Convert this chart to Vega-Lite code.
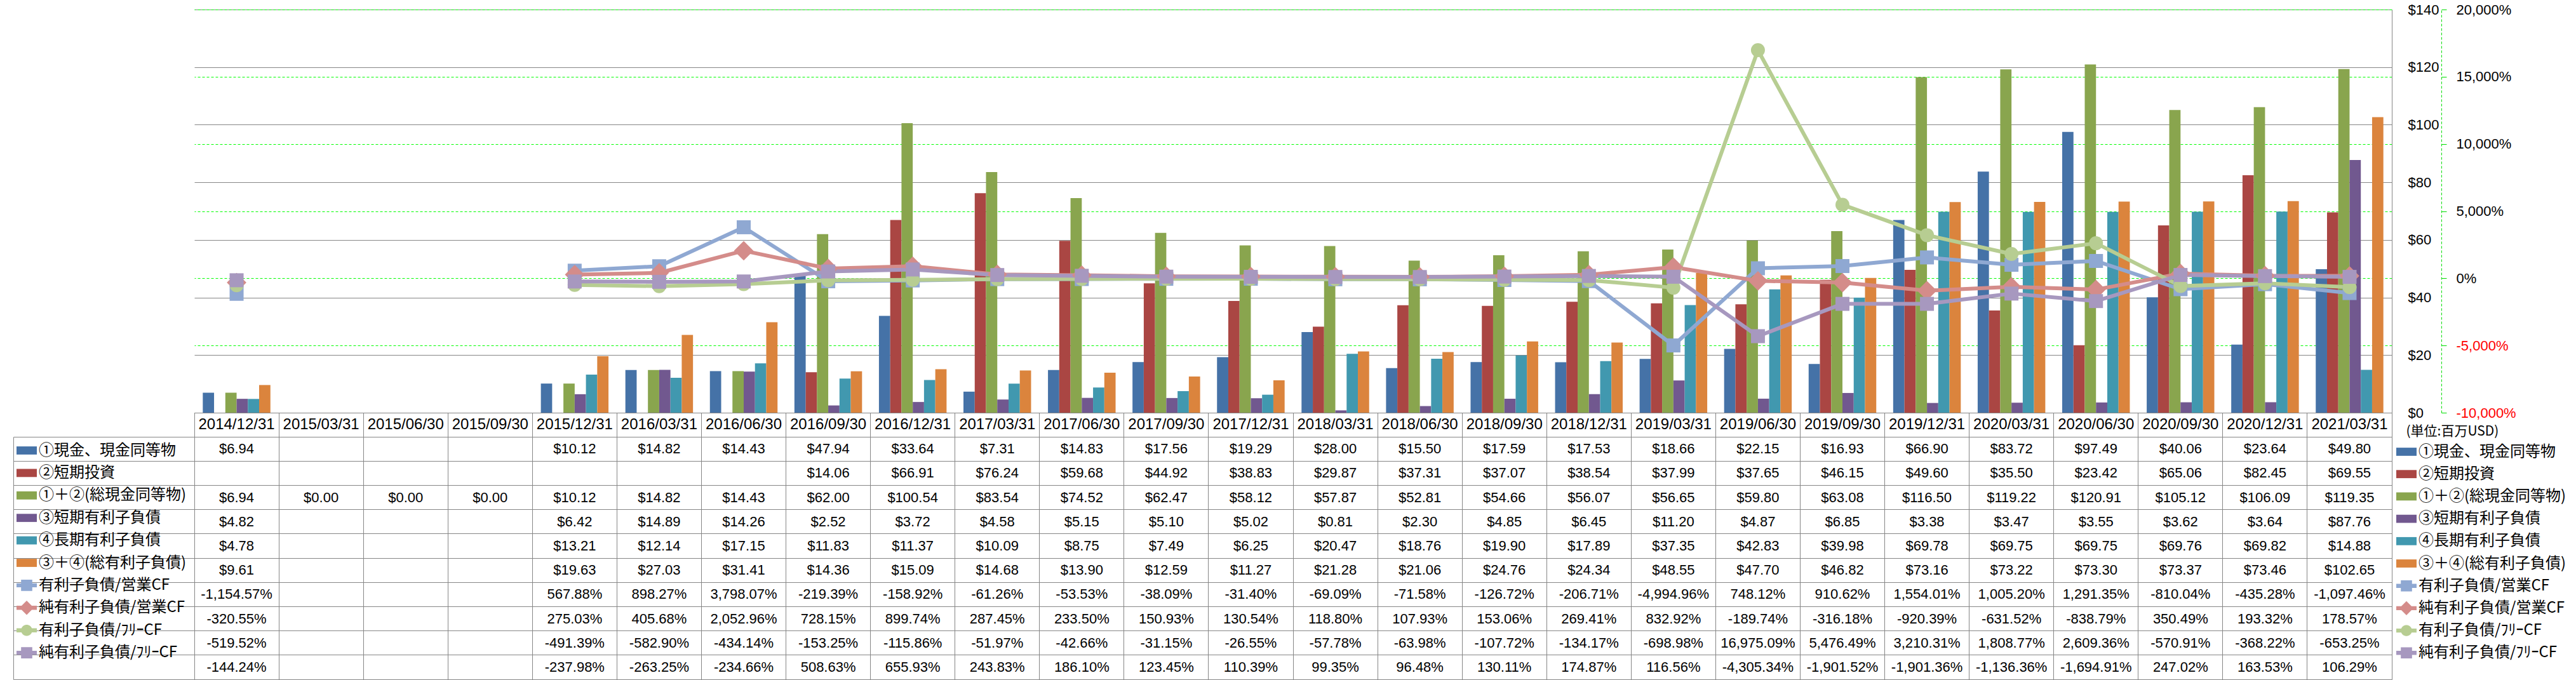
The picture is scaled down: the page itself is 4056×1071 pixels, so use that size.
{
  "$schema": "https://vega.github.io/schema/vega-lite/v6.json",
  "padding": {"left": 20, "top": 4, "right": 0, "bottom": 0},
  "autosize": {"type": "pad"},
  "background": "white",
  "datasets": {
    "w": [
      {"d": "2014/12/31", "①現金、現金同等物": 6.94, "①＋②(総現金同等物)": 6.94, "③短期有利子負債": 4.82, "④長期有利子負債": 4.78, "③＋④(総有利子負債)": 9.61, "有利子負債/営業CF": -11.5457, "純有利子負債/営業CF": -3.2055, "有利子負債/ﾌﾘｰCF": -5.1952, "純有利子負債/ﾌﾘｰCF": -1.4424},
      {"d": "2015/03/31", "①＋②(総現金同等物)": 0},
      {"d": "2015/06/30", "①＋②(総現金同等物)": 0},
      {"d": "2015/09/30", "①＋②(総現金同等物)": 0},
      {"d": "2015/12/31", "①現金、現金同等物": 10.12, "①＋②(総現金同等物)": 10.12, "③短期有利子負債": 6.42, "④長期有利子負債": 13.21, "③＋④(総有利子負債)": 19.63, "有利子負債/営業CF": 5.6788, "純有利子負債/営業CF": 2.7503, "有利子負債/ﾌﾘｰCF": -4.9139, "純有利子負債/ﾌﾘｰCF": -2.3798},
      {"d": "2016/03/31", "①現金、現金同等物": 14.82, "①＋②(総現金同等物)": 14.82, "③短期有利子負債": 14.89, "④長期有利子負債": 12.14, "③＋④(総有利子負債)": 27.03, "有利子負債/営業CF": 8.9827, "純有利子負債/営業CF": 4.0568, "有利子負債/ﾌﾘｰCF": -5.829, "純有利子負債/ﾌﾘｰCF": -2.6325},
      {"d": "2016/06/30", "①現金、現金同等物": 14.43, "①＋②(総現金同等物)": 14.43, "③短期有利子負債": 14.26, "④長期有利子負債": 17.15, "③＋④(総有利子負債)": 31.41, "有利子負債/営業CF": 37.9807, "純有利子負債/営業CF": 20.5296, "有利子負債/ﾌﾘｰCF": -4.3414, "純有利子負債/ﾌﾘｰCF": -2.3466},
      {"d": "2016/09/30", "①現金、現金同等物": 47.94, "②短期投資": 14.06, "①＋②(総現金同等物)": 62.00, "③短期有利子負債": 2.52, "④長期有利子負債": 11.83, "③＋④(総有利子負債)": 14.36, "有利子負債/営業CF": -2.1939, "純有利子負債/営業CF": 7.2815, "有利子負債/ﾌﾘｰCF": -1.5325, "純有利子負債/ﾌﾘｰCF": 5.0863},
      {"d": "2016/12/31", "①現金、現金同等物": 33.64, "②短期投資": 66.91, "①＋②(総現金同等物)": 100.54, "③短期有利子負債": 3.72, "④長期有利子負債": 11.37, "③＋④(総有利子負債)": 15.09, "有利子負債/営業CF": -1.5892, "純有利子負債/営業CF": 8.9974, "有利子負債/ﾌﾘｰCF": -1.1586, "純有利子負債/ﾌﾘｰCF": 6.5593},
      {"d": "2017/03/31", "①現金、現金同等物": 7.31, "②短期投資": 76.24, "①＋②(総現金同等物)": 83.54, "③短期有利子負債": 4.58, "④長期有利子負債": 10.09, "③＋④(総有利子負債)": 14.68, "有利子負債/営業CF": -0.6126, "純有利子負債/営業CF": 2.8745, "有利子負債/ﾌﾘｰCF": -0.5197, "純有利子負債/ﾌﾘｰCF": 2.4383},
      {"d": "2017/06/30", "①現金、現金同等物": 14.83, "②短期投資": 59.68, "①＋②(総現金同等物)": 74.52, "③短期有利子負債": 5.15, "④長期有利子負債": 8.75, "③＋④(総有利子負債)": 13.90, "有利子負債/営業CF": -0.5353, "純有利子負債/営業CF": 2.335, "有利子負債/ﾌﾘｰCF": -0.4266, "純有利子負債/ﾌﾘｰCF": 1.861},
      {"d": "2017/09/30", "①現金、現金同等物": 17.56, "②短期投資": 44.92, "①＋②(総現金同等物)": 62.47, "③短期有利子負債": 5.10, "④長期有利子負債": 7.49, "③＋④(総有利子負債)": 12.59, "有利子負債/営業CF": -0.3809, "純有利子負債/営業CF": 1.5093, "有利子負債/ﾌﾘｰCF": -0.3115, "純有利子負債/ﾌﾘｰCF": 1.2345},
      {"d": "2017/12/31", "①現金、現金同等物": 19.29, "②短期投資": 38.83, "①＋②(総現金同等物)": 58.12, "③短期有利子負債": 5.02, "④長期有利子負債": 6.25, "③＋④(総有利子負債)": 11.27, "有利子負債/営業CF": -0.314, "純有利子負債/営業CF": 1.3054, "有利子負債/ﾌﾘｰCF": -0.2655, "純有利子負債/ﾌﾘｰCF": 1.1039},
      {"d": "2018/03/31", "①現金、現金同等物": 28.00, "②短期投資": 29.87, "①＋②(総現金同等物)": 57.87, "③短期有利子負債": 0.81, "④長期有利子負債": 20.47, "③＋④(総有利子負債)": 21.28, "有利子負債/営業CF": -0.6909, "純有利子負債/営業CF": 1.188, "有利子負債/ﾌﾘｰCF": -0.5778, "純有利子負債/ﾌﾘｰCF": 0.9935},
      {"d": "2018/06/30", "①現金、現金同等物": 15.50, "②短期投資": 37.31, "①＋②(総現金同等物)": 52.81, "③短期有利子負債": 2.30, "④長期有利子負債": 18.76, "③＋④(総有利子負債)": 21.06, "有利子負債/営業CF": -0.7158, "純有利子負債/営業CF": 1.0793, "有利子負債/ﾌﾘｰCF": -0.6398, "純有利子負債/ﾌﾘｰCF": 0.9648},
      {"d": "2018/09/30", "①現金、現金同等物": 17.59, "②短期投資": 37.07, "①＋②(総現金同等物)": 54.66, "③短期有利子負債": 4.85, "④長期有利子負債": 19.90, "③＋④(総有利子負債)": 24.76, "有利子負債/営業CF": -1.2672, "純有利子負債/営業CF": 1.5306, "有利子負債/ﾌﾘｰCF": -1.0772, "純有利子負債/ﾌﾘｰCF": 1.3011},
      {"d": "2018/12/31", "①現金、現金同等物": 17.53, "②短期投資": 38.54, "①＋②(総現金同等物)": 56.07, "③短期有利子負債": 6.45, "④長期有利子負債": 17.89, "③＋④(総有利子負債)": 24.34, "有利子負債/営業CF": -2.0671, "純有利子負債/営業CF": 2.6941, "有利子負債/ﾌﾘｰCF": -1.3417, "純有利子負債/ﾌﾘｰCF": 1.7487},
      {"d": "2019/03/31", "①現金、現金同等物": 18.66, "②短期投資": 37.99, "①＋②(総現金同等物)": 56.65, "③短期有利子負債": 11.20, "④長期有利子負債": 37.35, "③＋④(総有利子負債)": 48.55, "有利子負債/営業CF": -49.9496, "純有利子負債/営業CF": 8.3292, "有利子負債/ﾌﾘｰCF": -6.9898, "純有利子負債/ﾌﾘｰCF": 1.1656},
      {"d": "2019/06/30", "①現金、現金同等物": 22.15, "②短期投資": 37.65, "①＋②(総現金同等物)": 59.80, "③短期有利子負債": 4.87, "④長期有利子負債": 42.83, "③＋④(総有利子負債)": 47.70, "有利子負債/営業CF": 7.4812, "純有利子負債/営業CF": -1.8974, "有利子負債/ﾌﾘｰCF": 169.7509, "純有利子負債/ﾌﾘｰCF": -43.0534},
      {"d": "2019/09/30", "①現金、現金同等物": 16.93, "②短期投資": 46.15, "①＋②(総現金同等物)": 63.08, "③短期有利子負債": 6.85, "④長期有利子負債": 39.98, "③＋④(総有利子負債)": 46.82, "有利子負債/営業CF": 9.1062, "純有利子負債/営業CF": -3.1618, "有利子負債/ﾌﾘｰCF": 54.7649, "純有利子負債/ﾌﾘｰCF": -19.0152},
      {"d": "2019/12/31", "①現金、現金同等物": 66.90, "②短期投資": 49.60, "①＋②(総現金同等物)": 116.50, "③短期有利子負債": 3.38, "④長期有利子負債": 69.78, "③＋④(総有利子負債)": 73.16, "有利子負債/営業CF": 15.5401, "純有利子負債/営業CF": -9.2039, "有利子負債/ﾌﾘｰCF": 32.1031, "純有利子負債/ﾌﾘｰCF": -19.0136},
      {"d": "2020/03/31", "①現金、現金同等物": 83.72, "②短期投資": 35.50, "①＋②(総現金同等物)": 119.22, "③短期有利子負債": 3.47, "④長期有利子負債": 69.75, "③＋④(総有利子負債)": 73.22, "有利子負債/営業CF": 10.052, "純有利子負債/営業CF": -6.3152, "有利子負債/ﾌﾘｰCF": 18.0877, "純有利子負債/ﾌﾘｰCF": -11.3636},
      {"d": "2020/06/30", "①現金、現金同等物": 97.49, "②短期投資": 23.42, "①＋②(総現金同等物)": 120.91, "③短期有利子負債": 3.55, "④長期有利子負債": 69.75, "③＋④(総有利子負債)": 73.30, "有利子負債/営業CF": 12.9135, "純有利子負債/営業CF": -8.3879, "有利子負債/ﾌﾘｰCF": 26.0936, "純有利子負債/ﾌﾘｰCF": -16.9491},
      {"d": "2020/09/30", "①現金、現金同等物": 40.06, "②短期投資": 65.06, "①＋②(総現金同等物)": 105.12, "③短期有利子負債": 3.62, "④長期有利子負債": 69.76, "③＋④(総有利子負債)": 73.37, "有利子負債/営業CF": -8.1004, "純有利子負債/営業CF": 3.5049, "有利子負債/ﾌﾘｰCF": -5.7091, "純有利子負債/ﾌﾘｰCF": 2.4702},
      {"d": "2020/12/31", "①現金、現金同等物": 23.64, "②短期投資": 82.45, "①＋②(総現金同等物)": 106.09, "③短期有利子負債": 3.64, "④長期有利子負債": 69.82, "③＋④(総有利子負債)": 73.46, "有利子負債/営業CF": -4.3528, "純有利子負債/営業CF": 1.9332, "有利子負債/ﾌﾘｰCF": -3.6822, "純有利子負債/ﾌﾘｰCF": 1.6353},
      {"d": "2021/03/31", "①現金、現金同等物": 49.80, "②短期投資": 69.55, "①＋②(総現金同等物)": 119.35, "③短期有利子負債": 87.76, "④長期有利子負債": 14.88, "③＋④(総有利子負債)": 102.65, "有利子負債/営業CF": -10.9746, "純有利子負債/営業CF": 1.7857, "有利子負債/ﾌﾘｰCF": -6.5325, "純有利子負債/ﾌﾘｰCF": 1.0629}
    ]
  },
  "data": {"name": "w"},
  "spacing": 0,
  "bounds": "flush",
  "vconcat": [
    {
      "width": 3460,
      "height": 635,
      "view": {"stroke": null},
      "transform": [
        {"fold": ["①現金、現金同等物", "②短期投資", "①＋②(総現金同等物)", "③短期有利子負債", "④長期有利子負債", "③＋④(総有利子負債)", "有利子負債/営業CF", "純有利子負債/営業CF", "有利子負債/ﾌﾘｰCF", "純有利子負債/ﾌﾘｰCF"], "as": ["s", "v"]},
        {"filter": "isValid(datum.v)"}
      ],
      "layer": [
        {
          "transform": [{"filter": {"field": "s", "oneOf": ["①現金、現金同等物", "②短期投資", "①＋②(総現金同等物)", "③短期有利子負債", "④長期有利子負債", "③＋④(総有利子負債)"]}}],
          "mark": {"type": "bar"},
          "encoding": {
            "x": {"field": "d", "type": "nominal", "sort": null,
              "scale": {"type": "band", "domain": ["2014/12/31","2015/03/31","2015/06/30","2015/09/30","2015/12/31","2016/03/31","2016/06/30","2016/09/30","2016/12/31","2017/03/31","2017/06/30","2017/09/30","2017/12/31","2018/03/31","2018/06/30","2018/09/30","2018/12/31","2019/03/31","2019/06/30","2019/09/30","2019/12/31","2020/03/31","2020/06/30","2020/09/30","2020/12/31","2021/03/31"], "paddingInner": 0.2, "paddingOuter": 0.1},
              "axis": {"orient": "bottom", "domain": true, "domainColor": "#868686", "labels": false, "ticks": false, "grid": false, "title": null}},
            "xOffset": {"field": "s", "type": "nominal", "scale": {"domain": ["①現金、現金同等物", "②短期投資", "①＋②(総現金同等物)", "③短期有利子負債", "④長期有利子負債", "③＋④(総有利子負債)"], "paddingInner": 0, "paddingOuter": 0}},
            "y": {"field": "v", "type": "quantitative",
              "scale": {"domain": [0, 140], "nice": false, "zero": true},
              "axis": {"orient": "right", "values": [0, 20, 40, 60, 80, 100, 120, 140], "format": "$,.0f", "grid": true, "gridColor": "#868686", "gridWidth": 1, "domain": true, "domainColor": "#868686", "ticks": false, "tickSize": 0, "labelPadding": 25, "labelAlign": "left", "labelFont": "Liberation Sans", "labelFontSize": 22, "labelColor": "#000000",
                "title": "(単位:百万USD)", "titleAngle": 0, "titleX": 22, "titleY": 664, "titleAlign": "left", "titleBaseline": "middle", "titleFont": "Noto Sans CJK JP", "titleFontSize": 21, "titleFontWeight": "normal", "titleColor": "#000000"}},
            "color": {"field": "s", "type": "nominal",
              "scale": {"domain": ["①現金、現金同等物", "②短期投資", "①＋②(総現金同等物)", "③短期有利子負債", "④長期有利子負債", "③＋④(総有利子負債)", "有利子負債/営業CF", "純有利子負債/営業CF", "有利子負債/ﾌﾘｰCF", "純有利子負債/ﾌﾘｰCF"],
                "range": ["#4572A7", "#AA4643", "#89A54E", "#71588F", "#4198AF", "#DB843D", "#8FA8D2", "#D48C8A", "#B7CD92", "#A798BF"]},
              "legend": null}
          }
        },
        {
          "transform": [{"filter": {"field": "s", "oneOf": ["有利子負債/営業CF", "純有利子負債/営業CF", "有利子負債/ﾌﾘｰCF", "純有利子負債/ﾌﾘｰCF"]}}],
          "layer": [
            {
              "transform": [{"filter": "datum.d != '2014/12/31'"}],
              "mark": {"type": "line", "strokeWidth": 6, "strokeJoin": "round", "strokeCap": "round"},
              "encoding": {
                "x": {"field": "d", "type": "nominal", "sort": null},
                "y": {"field": "v", "type": "quantitative",
                  "scale": {"domain": [-100, 200], "nice": false, "zero": false},
                  "axis": {"orient": "right", "offset": 78, "values": [-100, -50, 0, 50, 100, 150, 200], "format": ",.0%", "grid": true, "gridColor": "#00FF00", "gridDash": [4, 3], "gridWidth": 1, "domain": true, "domainColor": "#00DD00", "domainDash": [4, 3], "ticks": true, "tickSize": 8, "tickColor": "#00DD00", "labelPadding": 15, "labelAlign": "left", "labelFont": "Liberation Sans", "labelFontSize": 22,
                    "labelColor": {"condition": {"test": "datum.value < 0", "value": "#FF0000"}, "value": "#000000"}, "title": null}},
                "color": {"field": "s", "type": "nominal", "legend": null}
              }
            },
            {
              "mark": {"type": "point", "filled": true, "size": 484, "opacity": 1},
              "encoding": {
                "x": {"field": "d", "type": "nominal", "sort": null},
                "y": {"field": "v", "type": "quantitative"},
                "color": {"field": "s", "type": "nominal", "legend": null},
                "shape": {"field": "s", "type": "nominal", "legend": null,
                  "scale": {"domain": ["有利子負債/営業CF", "純有利子負債/営業CF", "有利子負債/ﾌﾘｰCF", "純有利子負債/ﾌﾘｰCF"], "range": ["square", "M0,-1.4L1.4,0L0,1.4L-1.4,0Z", "circle", "square"]}}
              }
            }
          ]
        }
      ],
      "resolve": {"scale": {"y": "independent"}, "axis": {"y": "independent"}}
    },
    {
      "width": 3460,
      "height": 420,
      "view": {"stroke": "#868686"},
      "layer": [
        {
          "layer": [
            {
              "mark": {"type": "text", "font": "Liberation Sans", "fontSize": 24, "color": "#000000"},
              "encoding": {
                "x": {"field": "d", "type": "nominal", "sort": null,
                  "scale": {"type": "band", "domain": ["2014/12/31","2015/03/31","2015/06/30","2015/09/30","2015/12/31","2016/03/31","2016/06/30","2016/09/30","2016/12/31","2017/03/31","2017/06/30","2017/09/30","2017/12/31","2018/03/31","2018/06/30","2018/09/30","2018/12/31","2019/03/31","2019/06/30","2019/09/30","2019/12/31","2020/03/31","2020/06/30","2020/09/30","2020/12/31","2021/03/31"], "paddingInner": 0, "paddingOuter": 0},
                  "axis": {"orient": "top", "grid": true, "gridColor": "#868686", "bandPosition": 0, "domain": false, "ticks": false, "labels": false, "title": null}},
                "y": {"datum": "hdr", "type": "nominal",
                  "scale": {"type": "band", "domain": ["hdr", "①現金、現金同等物", "②短期投資", "①＋②(総現金同等物)", "③短期有利子負債", "④長期有利子負債", "③＋④(総有利子負債)", "有利子負債/営業CF", "純有利子負債/営業CF", "有利子負債/ﾌﾘｰCF", "純有利子負債/ﾌﾘｰCF"], "paddingInner": 0, "paddingOuter": 0},
                  "axis": {"orient": "left", "grid": true, "gridColor": "#868686", "bandPosition": 1, "domain": false, "ticks": true, "tickSize": 285, "tickColor": "#868686", "labels": false, "title": null}},
                "text": {"field": "d"}
              }
            },
            {
              "transform": [
                {"fold": ["①現金、現金同等物", "②短期投資", "①＋②(総現金同等物)", "③短期有利子負債", "④長期有利子負債", "③＋④(総有利子負債)"], "as": ["s", "v"]},
                {"filter": "isValid(datum.v)"}
              ],
              "mark": {"type": "text", "font": "Liberation Sans", "fontSize": 22, "color": "#000000"},
              "encoding": {
                "x": {"field": "d", "type": "nominal", "sort": null},
                "y": {"field": "s", "type": "nominal"},
                "text": {"field": "v", "type": "quantitative", "format": "$,.2f"}
              }
            },
            {
              "transform": [
                {"fold": ["有利子負債/営業CF", "純有利子負債/営業CF", "有利子負債/ﾌﾘｰCF", "純有利子負債/ﾌﾘｰCF"], "as": ["s", "v"]},
                {"filter": "isValid(datum.v)"}
              ],
              "mark": {"type": "text", "font": "Liberation Sans", "fontSize": 22, "color": "#000000"},
              "encoding": {
                "x": {"field": "d", "type": "nominal", "sort": null},
                "y": {"field": "s", "type": "nominal"},
                "text": {"field": "v", "type": "quantitative", "format": ",.2%"}
              }
            }
          ]
        },
        {
          "data": {"values": [{"s": "①現金、現金同等物"}]},
          "mark": {"type": "text", "text": ""},
          "encoding": {
            "y": {"field": "s", "type": "nominal",
              "scale": {"type": "band", "domain": ["①現金、現金同等物", "②短期投資", "①＋②(総現金同等物)", "③短期有利子負債", "④長期有利子負債", "③＋④(総有利子負債)", "有利子負債/営業CF", "純有利子負債/営業CF", "有利子負債/ﾌﾘｰCF", "純有利子負債/ﾌﾘｰCF"], "range": [38.18, 420], "paddingInner": 0, "paddingOuter": 0},
              "axis": {"orient": "left", "offset": 285, "domain": true, "domainColor": "#868686", "ticks": false, "labels": false, "grid": false, "title": null}}
          }
        },
        {
          "data": {"values": []},
          "mark": {"type": "bar"},
          "encoding": {
            "color": {"field": "s", "type": "nominal",
              "scale": {"domain": ["①現金、現金同等物", "②短期投資", "①＋②(総現金同等物)", "③短期有利子負債", "④長期有利子負債", "③＋④(総有利子負債)", "有利子負債/営業CF", "純有利子負債/営業CF", "有利子負債/ﾌﾘｰCF", "純有利子負債/ﾌﾘｰCF"],
                "range": ["#4572A7", "#AA4643", "#89A54E", "#71588F", "#4198AF", "#DB843D", "#8FA8D2", "#D48C8A", "#B7CD92", "#A798BF"]},
              "legend": {"orient": "none", "legendX": -280, "legendY": 43.5, "title": null, "padding": 0, "direction": "vertical", "gridAlign": "all",
                "symbolSize": 1024, "symbolStrokeWidth": 0, "symbolOpacity": 1, "symbolType": "square",
                "labelFont": "Noto Sans CJK JP", "labelFontSize": 24, "labelColor": "#000000", "labelLimit": 400, "labelOffset": 3, "rowPadding": 7.4,
                "encode": {"symbols": {"update": {"shape": {"signal": "datum.index < 6 ? 'M-1,-0.4H1V0.4H-1Z' : datum.index == 7 ? 'M-1,-0.2H-0.5L0,-0.7L0.5,-0.2H1V0.2H0.5L0,0.7L-0.5,0.2H-1Z' : datum.index == 8 ? 'M-1,-0.2H-0.51A0.55,0.55 0 0 1 0.51,-0.2H1V0.2H0.51A0.55,0.55 0 0 1 -0.51,0.2H-1Z' : 'M-1,-0.2H-0.55V-0.55H0.55V-0.2H1V0.2H0.55V0.55H-0.55V0.2H-1Z'"}}}}}}
          }
        },
        {
          "data": {"values": []},
          "mark": {"type": "bar"},
          "encoding": {
            "color": {"field": "s", "type": "nominal",
              "scale": {"domain": ["①現金、現金同等物", "②短期投資", "①＋②(総現金同等物)", "③短期有利子負債", "④長期有利子負債", "③＋④(総有利子負債)", "有利子負債/営業CF", "純有利子負債/営業CF", "有利子負債/ﾌﾘｰCF", "純有利子負債/ﾌﾘｰCF"],
                "range": ["#4572A7", "#AA4643", "#89A54E", "#71588F", "#4198AF", "#DB843D", "#8FA8D2", "#D48C8A", "#B7CD92", "#A798BF"]},
              "legend": {"orient": "none", "legendX": 3467, "legendY": 45.5, "title": null, "padding": 0, "direction": "vertical", "gridAlign": "all",
                "symbolSize": 1024, "symbolStrokeWidth": 0, "symbolOpacity": 1, "symbolType": "square",
                "labelFont": "Noto Sans CJK JP", "labelFontSize": 24, "labelColor": "#000000", "labelLimit": 400, "labelOffset": 3, "rowPadding": 7.2,
                "encode": {"symbols": {"update": {"shape": {"signal": "datum.index < 6 ? 'M-1,-0.4H1V0.4H-1Z' : datum.index == 7 ? 'M-1,-0.2H-0.5L0,-0.7L0.5,-0.2H1V0.2H0.5L0,0.7L-0.5,0.2H-1Z' : datum.index == 8 ? 'M-1,-0.2H-0.51A0.55,0.55 0 0 1 0.51,-0.2H1V0.2H0.51A0.55,0.55 0 0 1 -0.51,0.2H-1Z' : 'M-1,-0.2H-0.55V-0.55H0.55V-0.2H1V0.2H0.55V0.55H-0.55V0.2H-1Z'"}}}}}}
          }
        }
      ],
      "resolve": {"scale": {"y": "independent", "color": "independent"}, "axis": {"y": "independent"}, "legend": {"color": "independent"}}
    }
  ],
  "resolve": {"scale": {"x": "independent", "color": "independent"}, "legend": {"color": "independent"}},
  "config": {
    "view": {"stroke": null},
    "font": "Liberation Sans",
    "locale": {"number": {"decimal": ".", "thousands": ",", "grouping": [3], "currency": ["$", ""], "minus": "-"}},
    "axis": {"labelFont": "Liberation Sans", "labelFontSize": 22, "labelColor": "#000000"}
  }
}
